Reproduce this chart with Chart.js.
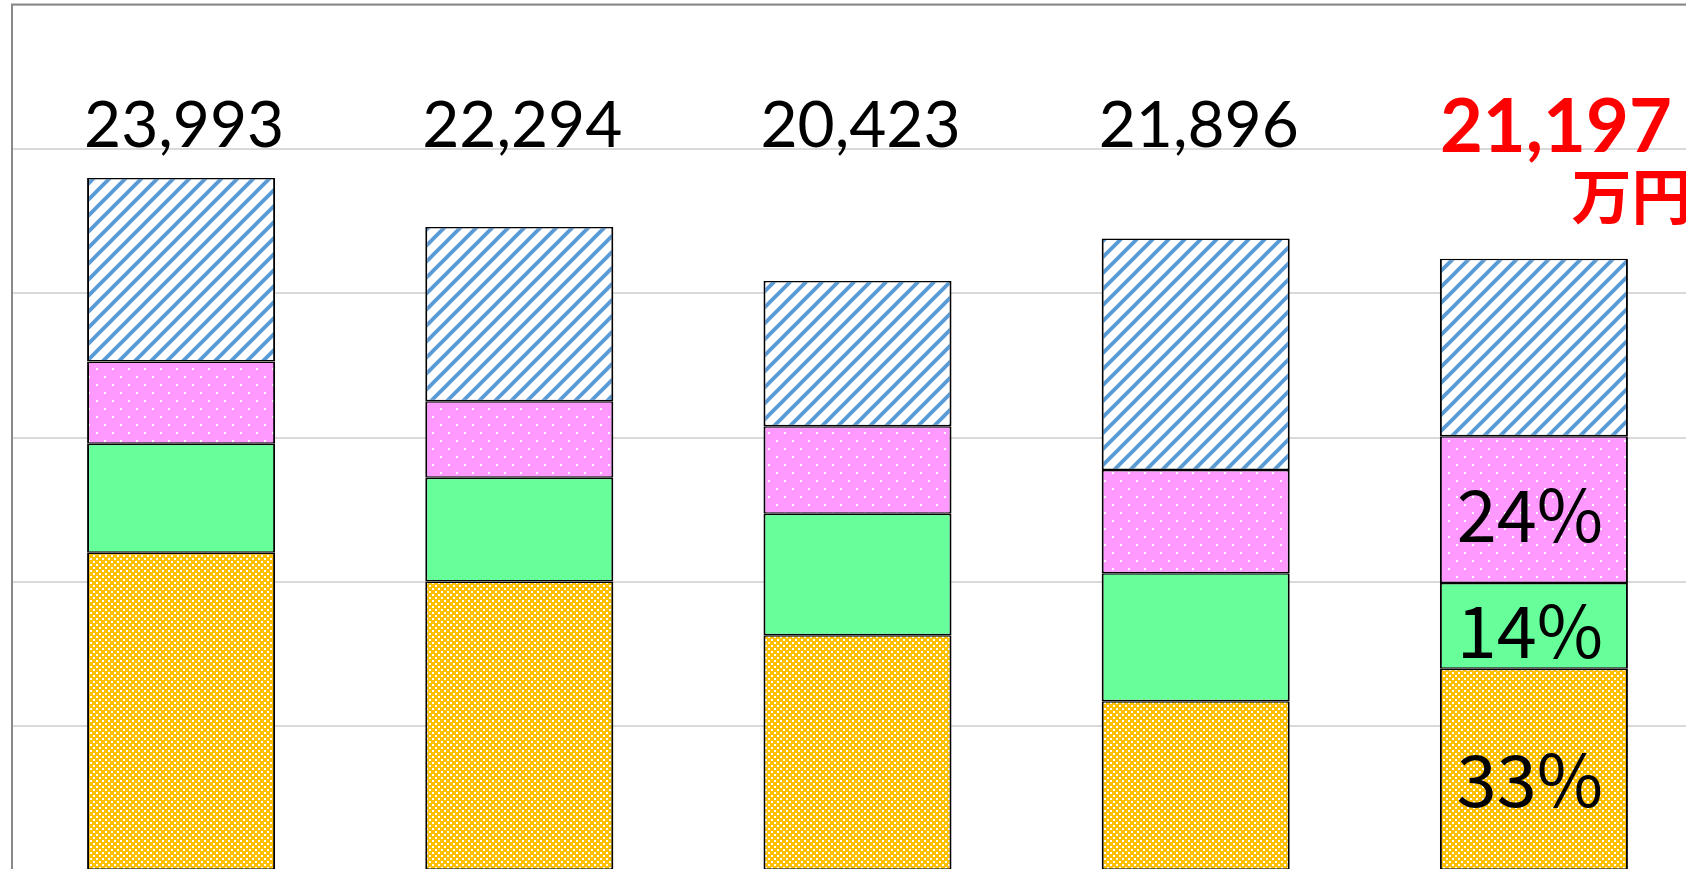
<!DOCTYPE html>
<html>
<head>
<meta charset="utf-8">
<script src="https://cdn.jsdelivr.net/npm/chart.js"></script>
<style>
  html, body { margin: 0; padding: 0; background: #ffffff; overflow: hidden; }
  #wrap { position: absolute; left: 0; top: 0; }
</style>
</head>
<body>
<div id="wrap"><canvas id="c" width="1720" height="880"></canvas></div>
<script>
// ---- data ----
const categories = ['1', '2', '3', '4', '5'];
const seriesOrange = [11017, 10014, 8156, 5872, 6995];   // bottom segment
const seriesGreen  = [3772, 3599, 4211, 4429, 2968];
const seriesPink   = [2848, 2651, 3031, 3581, 5087];
const seriesHatch  = [6356, 6030, 5025, 8014, 6147];     // top segment
const yTicks = [0, 5000, 10000, 15000, 20000, 25000, 30000];
const unitLabel = '万円';

// ---- patterns ----
function tile(w, h, draw) {
  const c = document.createElement('canvas');
  c.width = w; c.height = h;
  const g = c.getContext('2d');
  draw(g, w, h);
  return document.getElementById('c').getContext('2d').createPattern(c, 'repeat');
}
const hatchPattern = tile(16, 16, (g, s) => {
  g.fillStyle = '#ffffff'; g.fillRect(0, 0, s, s);
  g.strokeStyle = '#5b9bd5'; g.lineWidth = 3.8;
  for (const o of [-s, 0, s]) {
    g.beginPath(); g.moveTo(o - 2, s + 2); g.lineTo(o + s + 2, -2); g.stroke();
  }
});
const pinkPattern = tile(16, 16, (g, s) => {
  g.fillStyle = '#ff99ff'; g.fillRect(0, 0, s, s);
  g.fillStyle = '#ffffff';
  g.fillRect(0, 0, 2, 2); g.fillRect(8, 8, 2, 2);
});
const orangePattern = tile(6, 6, (g, s) => {
  g.fillStyle = '#ffc000'; g.fillRect(0, 0, s, s);
  g.fillStyle = '#ffffff';
  g.fillRect(0, 0, 2, 2); g.fillRect(3, 3, 2, 2);
});

const border = { top: 1.5, bottom: 1.5, left: 2, right: 2 };
function ds(label, data, bg) {
  return {
    label, data, backgroundColor: bg, borderColor: '#000000',
    borderWidth: border, borderSkipped: false,
    barPercentage: 0.556, categoryPercentage: 1.0
  };
}

const labelPlugin = {
  id: 'labels',
  afterDatasetsDraw(chart) {
    const ctx = chart.ctx;
    const y = chart.scales.y;
    const top = chart.getDatasetMeta(chart.data.datasets.length - 1);
    const n = categories.length;
    ctx.save();
    for (let i = 0; i < n; i++) {
      const total = chart.data.datasets.reduce((s, d) => s + d.data[i], 0);
      const txt = total.toLocaleString('en-US');
      const bar = top.data[i];
      const base = y.getPixelForValue(yTicks[5]) - 2;
      if (i === n - 1) {
        ctx.fillStyle = '#ff0000';
        ctx.font = 'bold 74px Lato';
        ctx.textAlign = 'left';
        ctx.textBaseline = 'alphabetic';
        ctx.fillText(txt, bar.x - bar.width / 2, base + 5);
        ctx.font = 'bold 60px "Noto Sans CJK JP"';
        ctx.fillText(unitLabel, bar.x + bar.width * 0.2, base + 72);
      } else {
        ctx.fillStyle = '#000000';
        ctx.font = '64px Lato';
        ctx.textAlign = 'center';
        ctx.textBaseline = 'alphabetic';
        ctx.fillText(txt, bar.x + 3, base);
      }
    }
    // percentages on the last bar
    const last = n - 1;
    const total = chart.data.datasets.reduce((s, d) => s + d.data[last], 0);
    ctx.fillStyle = '#000000';
    ctx.font = '72px "Noto Sans CJK JP"';
    ctx.textAlign = 'center';
    ctx.textBaseline = 'alphabetic';
    for (let k = 0; k < 3; k++) {
      const el = chart.getDatasetMeta(k).data[last];
      const pct = Math.round(chart.data.datasets[k].data[last] / total * 100) + '%';
      const cy = (el.y + el.base) / 2;
      ctx.fillText(pct, el.x - 4, cy + 32 + (k === 0 ? 6 : 0));
    }
    ctx.restore();
  },
  afterDraw(chart) {
    const ctx = chart.ctx;
    const a = chart.chartArea;
    ctx.save();
    ctx.strokeStyle = '#898989';
    ctx.lineWidth = 2;
    ctx.beginPath();
    ctx.moveTo(a.left, a.bottom + 20);
    ctx.lineTo(a.left, a.top);
    ctx.lineTo(chart.width, a.top);
    ctx.stroke();
    ctx.restore();
  }
};

new Chart(document.getElementById('c'), {
  type: 'bar',
  data: {
    labels: categories,
    datasets: [
      ds('orange', seriesOrange, orangePattern),
      ds('green', seriesGreen, '#66ff99'),
      ds('pink', seriesPink, pinkPattern),
      ds('hatch', seriesHatch, hatchPattern)
    ]
  },
  options: {
    responsive: false,
    devicePixelRatio: 1,
    animation: false,
    layout: { padding: { left: 12, right: 17, top: 4.6, bottom: 9.3 } },
    plugins: { legend: { display: false }, tooltip: { enabled: false } },
    scales: {
      x: { stacked: true, display: false },
      y: {
        stacked: true,
        min: yTicks[0], max: yTicks[yTicks.length - 1],
        afterBuildTicks(scale) { scale.ticks = yTicks.map(v => ({ value: v })); },
        ticks: { display: false },
        border: { display: false },
        grid: { color: '#d9d9d9', lineWidth: 2, drawTicks: false }
      }
    }
  },
  plugins: [labelPlugin]
});
</script>
</body>
</html>
